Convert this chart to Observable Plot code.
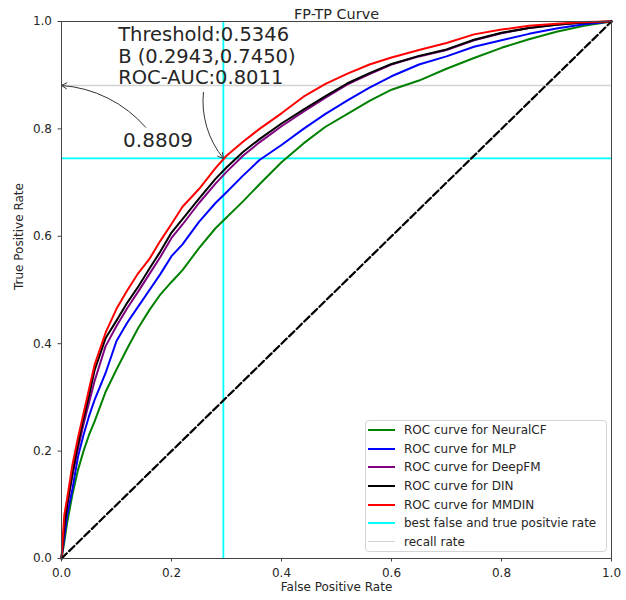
<!DOCTYPE html>
<html>
<head>
<meta charset="utf-8">
<script src="https://cdn.jsdelivr.net/npm/d3@7"></script>
<script src="https://cdn.jsdelivr.net/npm/@observablehq/plot@0.6"></script>
<style>
  body { margin: 0; background: #fff; font-family: "DejaVu Sans", sans-serif; }
  #wrap { position: relative; width: 626px; height: 600px; }
  #wrap svg { display: block; }
  #legend { position: absolute; left: 365px; top: 420px; width: 242px; height: 132px;
    border: 1px solid #d4d4d4; border-radius: 4px; background: rgba(255,255,255,0.8);
    box-sizing: border-box; padding-top: 0px; }
  .row { display: flex; align-items: center; height: 18.6px; font-size: 12px; color: #262626; white-space: nowrap; }
  .sw { width: 27px; margin-left: 2px; margin-right: 9px; height: 0; border-top-style: solid; }
</style>
</head>
<body>
<div id="wrap"></div>
<script>
// ---- data ----
const fpr = [0,0.005,0.01,0.02,0.03,0.04,0.05,0.06,0.08,0.10,0.12,0.14,0.16,0.18,0.20,0.22,0.25,0.28,0.30,0.33,0.36,0.40,0.44,0.48,0.52,0.56,0.60,0.65,0.70,0.75,0.80,0.85,0.90,0.95,1.0];
const tprNeuralCF = [0,0.03,0.065,0.12,0.165,0.2,0.23,0.255,0.31,0.352,0.392,0.43,0.463,0.492,0.515,0.537,0.578,0.615,0.635,0.665,0.697,0.738,0.773,0.804,0.828,0.852,0.873,0.89,0.912,0.932,0.951,0.967,0.981,0.992,1];
const tprMLP      = [0,0.04,0.08,0.13,0.19,0.23,0.265,0.295,0.345,0.405,0.44,0.47,0.50,0.53,0.563,0.585,0.627,0.662,0.682,0.713,0.742,0.77,0.80,0.828,0.853,0.877,0.898,0.92,0.935,0.953,0.965,0.977,0.987,0.995,1];
const tprDeepFM   = [0,0.055,0.095,0.155,0.205,0.25,0.29,0.33,0.395,0.433,0.467,0.498,0.53,0.562,0.597,0.622,0.662,0.698,0.72,0.75,0.775,0.805,0.832,0.858,0.883,0.902,0.92,0.935,0.947,0.965,0.978,0.988,0.994,0.998,1];
const tprDIN      = [0,0.06,0.1,0.16,0.213,0.26,0.303,0.35,0.41,0.443,0.477,0.507,0.54,0.572,0.607,0.632,0.67,0.707,0.728,0.757,0.781,0.81,0.836,0.861,0.885,0.904,0.921,0.936,0.948,0.966,0.979,0.988,0.994,0.998,1];
const tprMMDIN    = [0,0.08,0.11,0.175,0.225,0.27,0.315,0.36,0.42,0.465,0.50,0.532,0.558,0.592,0.623,0.655,0.688,0.727,0.75,0.776,0.80,0.829,0.86,0.884,0.903,0.92,0.933,0.947,0.96,0.976,0.985,0.992,0.996,0.999,1];

const seriesNames  = ["NeuralCF", "MLP", "DeepFM", "DIN", "MMDIN"];
const seriesTpr    = [tprNeuralCF, tprMLP, tprDeepFM, tprDIN, tprMMDIN];
const seriesColors = ["green", "blue", "purple", "black", "red"];

const bestFpr = 0.2943, bestTpr = 0.7450;
const recallRate = 0.8809;
const thresholdValue = 0.5346;
const rocAuc = 0.8011;
const chanceFpr = [0, 1];
const chanceTpr = [0, 1];
const axisTicks = [0, 0.2, 0.4, 0.6, 0.8, 1.0];

const annotationLines = [
  `Threshold:${thresholdValue.toFixed(4)}`,
  `B (${bestFpr.toFixed(4)},${bestTpr.toFixed(4)})`,
  `ROC-AUC:${rocAuc.toFixed(4)}`
];
// where the annotation texts / arrow tails sit (data units)
const blockTextX = 0.103;
const blockLineY = [0.9633, 0.9233, 0.8835];
const recallTextX = 0.112, recallTextY = 0.7775;
const arrowTailX = [0.153, 0.258], arrowTailY = [0.803, 0.868];
const arrowHeadX = [0, bestFpr], arrowHeadY = [recallRate, bestTpr];

const legendLabels = [...seriesNames.map(n => `ROC curve for ${n}`), "best false and true positvie rate", "recall rate"];
const legendColors = [...seriesColors, "cyan", "#d3d3d3"];
const legendWidths = [2, 2, 2, 2, 2, 2, 1.5];

// ---- build tables ----
const curveRows = seriesNames.flatMap((name, s) =>
  fpr.map((x, i) => ({name, x, y: seriesTpr[s][i]})));
const chanceRows = chanceFpr.map((x, i) => ({x, y: chanceTpr[i]}));
const blockRows = annotationLines.map((text, i) => ({text, x: blockTextX, y: blockLineY[i]}));
const arrows = arrowTailX.map((x1, i) => ({x1, y1: arrowTailY[i], x2: arrowHeadX[i], y2: arrowHeadY[i], inset: i === 0 ? 4 : 2}));

const font = "DejaVu Sans, sans-serif";
const chart = Plot.plot({
  width: 626, height: 600,
  marginLeft: 61, marginRight: 15, marginTop: 21, marginBottom: 42,
  style: {fontFamily: font, fontSize: "12px", color: "#262626", background: "white"},
  x: {domain: [0, 1], label: null},
  y: {domain: [0, 1], label: null},
  color: {domain: seriesNames, range: seriesColors},
  marks: [
    Plot.ruleY([recallRate], {stroke: "#d3d3d3", strokeWidth: 1.4}),
    Plot.ruleX([bestFpr], {stroke: "cyan", strokeWidth: 1.8}),
    Plot.ruleY([bestTpr], {stroke: "cyan", strokeWidth: 1.8}),
    Plot.line(curveRows, {x: "x", y: "y", z: "name", stroke: "name", strokeWidth: 2, curve: "linear"}),
    Plot.line(chanceRows, {x: "x", y: "y", stroke: "black", strokeWidth: 2.2, strokeDasharray: "7.4,3.2"}),
    Plot.frame({stroke: "#444", strokeWidth: 1}),
    Plot.axisX({ticks: axisTicks, tickFormat: d3.format(".1f"), tickSize: 3.5, tickPadding: 6, fontSize: 12, stroke: "#444", label: null}),
    Plot.axisY({ticks: axisTicks, tickFormat: d3.format(".1f"), tickSize: 3.5, tickPadding: 6, fontSize: 12, stroke: "#444", label: null}),
    Plot.text(["False Positive Rate"], {frameAnchor: "bottom", dy: 32, fontSize: 12, fill: "#262626"}),
    Plot.text(["True Positive Rate"], {frameAnchor: "left", dx: -42, rotate: -90, fontSize: 12, fill: "#262626"}),
    Plot.text(["FP-TP Curve"], {frameAnchor: "top", dy: -12.3, fontSize: 14.4, fill: "#262626"}),
    Plot.text(blockRows, {x: "x", y: "y", text: "text", textAnchor: "start", lineAnchor: "bottom", fontSize: 19.5, fill: "#262626"}),
    Plot.text([recallRate.toFixed(4)], {x: () => recallTextX, y: () => recallTextY, text: d => d, textAnchor: "start", fontSize: 20, fill: "#262626"}),
    Plot.arrow(arrows, {x1: "x1", y1: "y1", x2: "x2", y2: "y2", bend: -22.5, insetEnd: "inset", stroke: "#333", strokeWidth: 1, headLength: 9})
  ]
});
const wrap = document.getElementById("wrap");
wrap.appendChild(chart);

const legend = document.createElement("div");
legend.id = "legend";
legendLabels.forEach((label, i) => {
  const row = document.createElement("div");
  row.className = "row";
  const sw = document.createElement("span");
  sw.className = "sw";
  sw.style.borderTopColor = legendColors[i];
  sw.style.borderTopWidth = legendWidths[i] + "px";
  const t = document.createElement("span");
  t.textContent = label;
  row.appendChild(sw); row.appendChild(t);
  legend.appendChild(row);
});
wrap.appendChild(legend);
</script>
</body>
</html>
